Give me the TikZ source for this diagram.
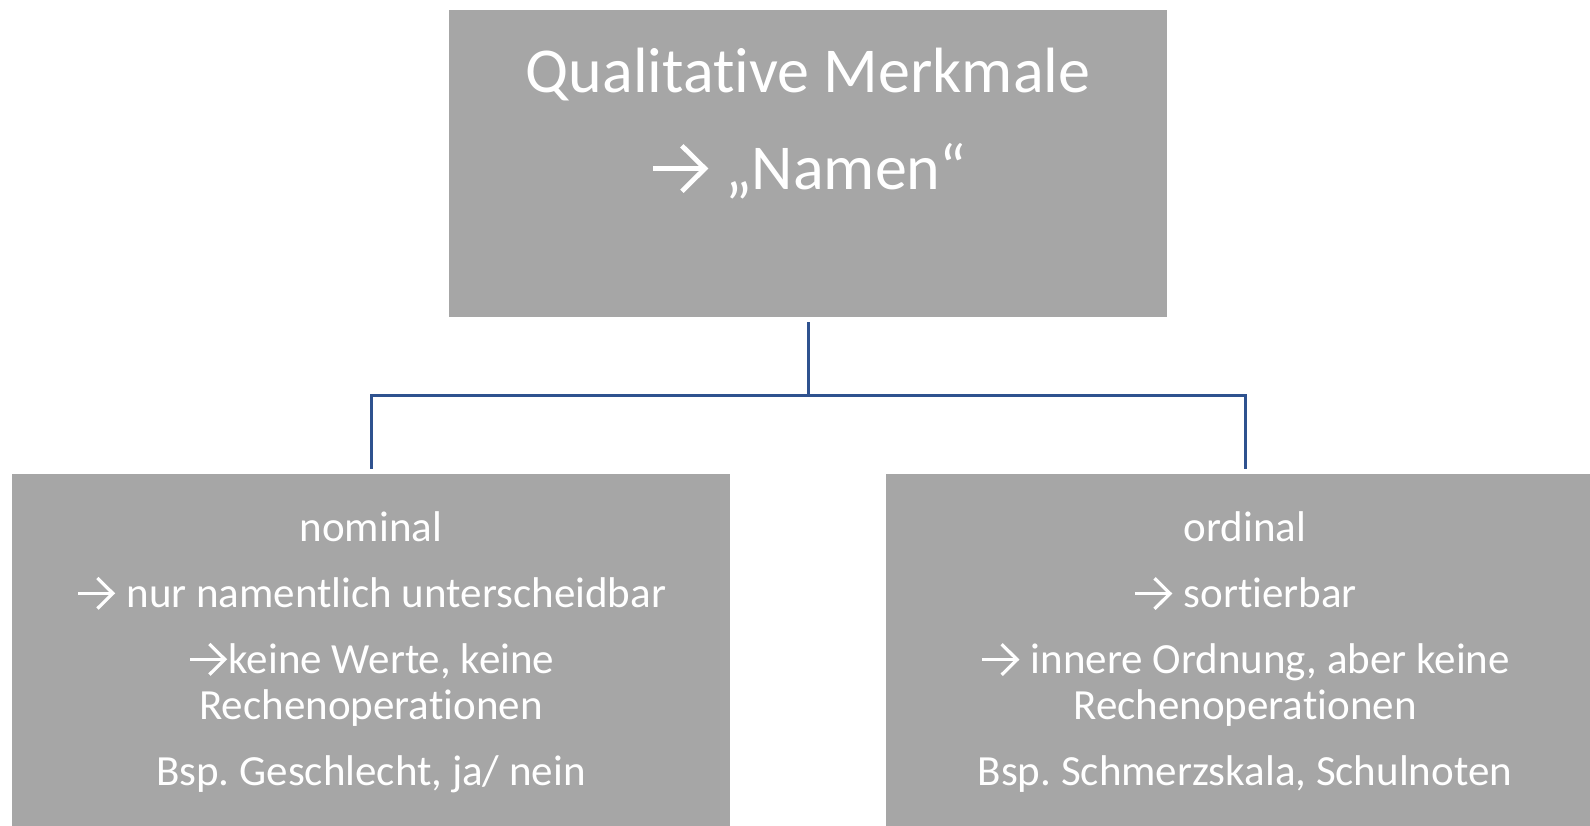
\documentclass[tikz,border=0pt]{standalone}
\usepackage{fontspec}
\setmainfont{Carlito}[Ligatures={NoCommon}]
\frenchspacing
\definecolor{boxgray}{RGB}{166,166,166}
\definecolor{linkblue}{RGB}{47,82,143}
% open-headed arrow sized to the current font
\newcommand{\rarr}{\tikz[baseline=0pt,x=1em,y=1em]{%
  \path (0,0) (0.95,0.67);
  \draw[white,line width=0.075em] (0.05,0.335)--(0.84,0.335);
  \draw[white,line width=0.075em,line join=miter] (0.5,0.69)--(0.86,0.335)--(0.5,-0.02);}}
\begin{document}
\begin{tikzpicture}[x=1pt,y=-1pt,
  box/.style={fill=boxgray, draw=none, minimum width=718pt, inner sep=0pt,
              text=white, align=center},
  conn/.style={draw=linkblue, line width=3pt}]
\clip (0,0) rectangle (1590,825);
% boxes
\node[box, minimum height=307pt] (top) at (808,163.5) {};
\node[text=white, align=center, font=\fontsize{64}{77}\selectfont, anchor=north]
  (title) at (808,45) {Qualitative Merkmale\\[20pt]\rarr\ „Namen“};
\node[box, minimum height=357pt, font=\fontsize{43}{46}\selectfont] (nominal) at (371,652.5)
  {nominal\\[20pt]\rarr\ nur namentlich unterscheidbar\\[20pt]\rarr keine Werte, keine\\
   Rechenoperationen\\[20pt]Bsp. Geschlecht, ja/ nein};
\node[box, minimum height=357pt, font=\fontsize{43}{46}\selectfont] (ordinal) at (1245,652.5)
  {ordinal\\[20pt]\rarr\ sortierbar\\[20pt]\rarr\ innere Ordnung, aber keine\\
   Rechenoperationen\\[20pt]Bsp. Schmerzskala, Schulnoten};
% connectors
\coordinate (fork) at (808,395);
\draw[conn, shorten <=5pt] (top.south) -- (fork);
\draw[conn, shorten >=5pt] (fork) -| (nominal.north);
\draw[conn, shorten >=5pt] (fork) -| (ordinal.north);
\end{tikzpicture}
\end{document}
